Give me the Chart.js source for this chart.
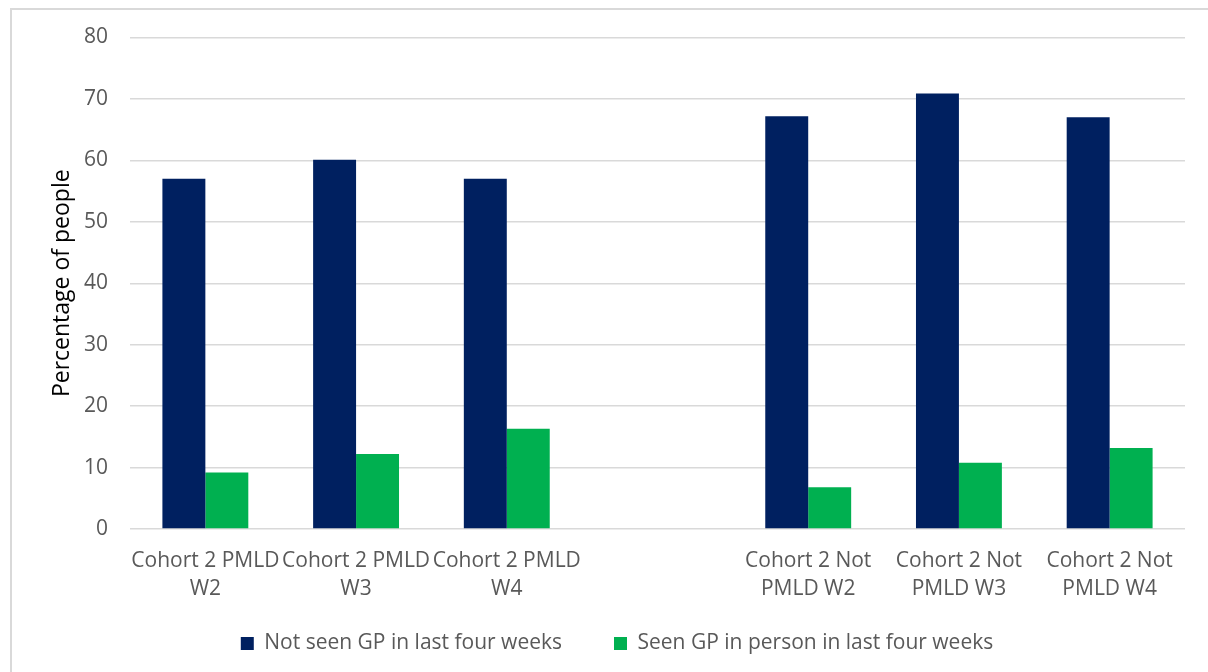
<!DOCTYPE html>
<html>
<head>
<meta charset="utf-8">
<script src="https://cdn.jsdelivr.net/npm/chart.js@4"></script>
<style>
  html, body { margin: 0; padding: 0; background: #fff; }
  #wrap { position: relative; width: 1208px; height: 672px; overflow: hidden; }
  #frame { position: absolute; left: 10px; top: 8px; width: 1300px; height: 800px;
           border-left: 2px solid #d9d9d9; border-top: 2px solid #d9d9d9; box-sizing: border-box; }
  canvas { position: absolute; left: 0; top: 0; }
</style>
</head>
<body>
<div id="wrap">
  <div id="frame"></div>
  <canvas id="c" width="1208" height="672"></canvas>
</div>
<script>
// Groups along the x axis (blank slot separates PMLD from Not PMLD)
const categories = [
  ["Cohort 2 PMLD", "W2"],
  ["Cohort 2 PMLD", "W3"],
  ["Cohort 2 PMLD", "W4"],
  "",
  ["Cohort 2 Not", "PMLD W2"],
  ["Cohort 2 Not", "PMLD W3"],
  ["Cohort 2 Not", "PMLD W4"]
];

// Percentage of people per group
const notSeenGP = [57.0, 60.1, 57.0, null, 67.2, 70.9, 67.0];
const seenGPInPerson = [9.2, 12.2, 16.3, null, 6.8, 10.8, 13.2];

const seriesNames = ["Not seen GP in last four weeks", "Seen GP in person in last four weeks"];
const yTicks = { min: 0, max: 80, step: 10 };

const FONT = "'Open Sans', 'Noto Sans', sans-serif";

new Chart(document.getElementById("c"), {
  type: "bar",
  data: {
    labels: categories,
    datasets: [
      { label: seriesNames[0], data: notSeenGP, backgroundColor: "#002060", borderWidth: 0 },
      { label: seriesNames[1], data: seenGPInPerson, backgroundColor: "#00B050", borderWidth: 0 }
    ]
  },
  options: {
    responsive: false,
    animation: false,
    devicePixelRatio: 1,
    layout: { padding: { left: 49, top: 37.5, right: 23, bottom: 8 } },
    datasets: { bar: { categoryPercentage: 0.57, barPercentage: 1.0 } },
    plugins: {
      tooltip: { enabled: false },
      legend: {
        position: "bottom",
        labels: {
          boxWidth: 13,
          boxHeight: 13,
          padding: 52,
          color: "#595959",
          font: { family: FONT, size: 21 }
        }
      }
    },
    scales: {
      x: {
        grid: { display: false, drawTicks: false },
        border: { display: false },
        ticks: {
          color: "#595959",
          font: { family: FONT, size: 21, lineHeight: 1.33 },
          padding: 18,
          maxRotation: 0,
          autoSkip: false
        },
        afterFit: s => {
          s.height = 52;
          // two-line labels run below the axis box; let them draw unclipped
          s._computeLabelArea = () => undefined;
        }
      },
      y: {
        min: yTicks.min,
        max: yTicks.max,
        grid: { color: "#d9d9d9", lineWidth: 1.5, drawTicks: false },
        border: { display: false },
        ticks: {
          stepSize: yTicks.step,
          color: "#595959",
          font: { family: FONT, size: 21 },
          padding: 22
        },
        title: {
          display: true,
          text: "Percentage of people",
          color: "#000000",
          font: { family: FONT, size: 23 },
          padding: { top: 0, bottom: 10 }
        },
        afterFit: s => { s.width = 81; }
      }
    }
  }
});
</script>
</body>
</html>
